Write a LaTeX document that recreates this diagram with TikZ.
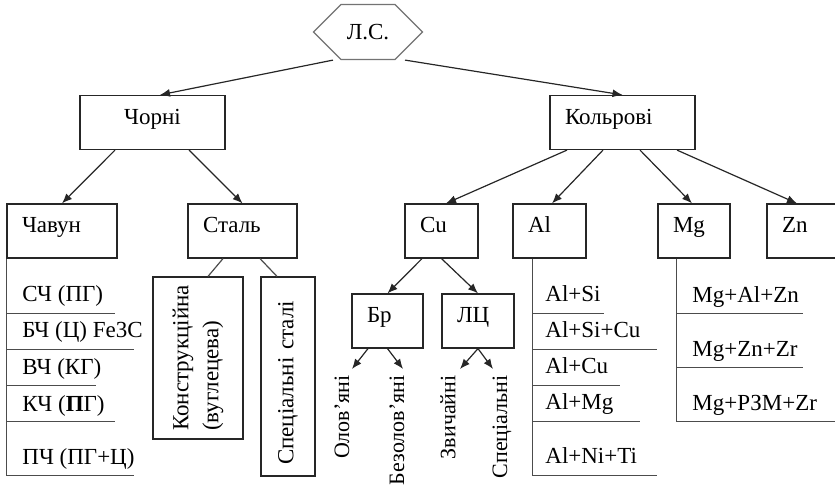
\documentclass[tikz,border=0pt]{standalone}
\usepackage{fontspec}
\setmainfont{Liberation Serif}
\usetikzlibrary{arrows.meta,shapes.symbols}
\begin{document}
\begin{tikzpicture}[
            x=0.5pt, y=-0.5pt,
            font=\fontsize{11.5}{13.5}\selectfont,
            hexa/.style={signal, signal to=west and east, draw=black!55, line width=0.6pt,
                    minimum width=54.5pt, minimum height=27.5pt, inner sep=0pt},
            box/.style={draw=black!85, line width=0.6pt, rectangle, minimum height=27pt,
                    text height=7pt, text depth=5pt, inner ysep=0pt},
            lbox/.style={box, inner xsep=7.5pt, text width=#1, align=left},
            vbox/.style={draw=black!85, line width=0.6pt, rectangle, rotate=90, align=left},
            arr/.style={draw=black!85, line width=0.6pt, -{Latex[length=5pt,width=4pt]}},
            tie/.style={draw=black!70, line width=0.6pt},
            item/.style={anchor=base west, inner sep=0pt},
            vtext/.style={rotate=90, anchor=east, inner sep=1pt, font=\fontsize{11}{13}\selectfont}
        ]
        \useasboundingbox (0,0) rectangle (835,485);
        \clip (0,0) rectangle (835,485);

        \node[hexa] (ls) at (368,32) {Л.С.};

        \node[box, minimum width=72.5pt] (chorni) at (152.5,122.5) {Чорні};
        \node[lbox=57.5pt] (kolrovi) at (622.5,122.5) {Кольрові};

        \node[lbox=40pt] (chavun) at (62,231) {Чавун};
        \node[lbox=39.5pt] (stal) at (242.5,231) {Сталь};
        \node[lbox=21.5pt] (cu) at (441.5,231) {Cu};
        \node[lbox=21.5pt] (al) at (549.5,231) {Al};
        \node[lbox=21pt] (mg) at (694,231) {Mg};
        \node[lbox=21pt] (zn) at (803,231) {Zn};

        \node[lbox=20.5pt] (br) at (387.5,321) {Бр};
        \node[lbox=21pt] (lc) at (478,321) {ЛЦ};

        \node[vbox, minimum width=81pt, minimum height=45pt,
            font=\fontsize{11.5}{15}\selectfont] (konstr) at (198,358)
            {Конструкційна\\(вуглецева)};
        \node[vbox, minimum width=99.5pt, minimum height=27pt, inner xsep=5.5pt,
            text width=88.5pt] (specstal) at (288,376.5) {Спеціальні сталі};

        \node[vtext] (olov) at (342,373) {Олов’яні};
        \node[vtext] (bezolov) at (397,373) {Безолов’яні};
        \node[vtext] (zvych) at (448,373) {Звичайні};
        \node[vtext] (specl) at (502,373) {Спеціальні};

        \draw[arr] ([xshift=-17.5pt]ls.south) -- ([xshift=3.75pt]chorni.north);
        \draw[arr] ([xshift=18.5pt]ls.south) -- (kolrovi.north);
        \draw[arr] ([xshift=-18.75pt]chorni.south) -- (chavun.north);
        \draw[arr] ([xshift=18.25pt]chorni.south) -- (stal.north);
        \draw[arr] ([xshift=-27.75pt]kolrovi.south) -- ([xshift=2.25pt]cu.north);
        \draw[arr] ([xshift=-9.75pt]kolrovi.south) -- ([xshift=1.25pt]al.north);
        \draw[arr] ([xshift=8.75pt]kolrovi.south) -- ([xshift=-1pt]mg.north);
        \draw[arr] ([xshift=27.25pt]kolrovi.south) -- ([xshift=-3pt]zn.north);
        \draw[arr] ([xshift=-9.75pt]cu.south) -- (br.north);
        \draw[arr] (cu.south) -- (lc.north);
        \draw[arr] ([xshift=-9.75pt]br.south) -- ([xshift=5pt,yshift=2pt]olov.east);
        \draw[arr] (br.south) -- ([xshift=3pt,yshift=2pt]bezolov.east);
        \draw[arr] (lc.south) -- ([xshift=6pt,yshift=2pt]zvych.east);
        \draw[arr] (lc.south) -- ([xshift=-4.5pt,yshift=2pt]specl.east);

        \draw[tie] ([xshift=-9.75pt]stal.south) -- ([xshift=5pt]konstr.east);
        \draw[tie] ([xshift=8.75pt]stal.south) -- ([xshift=-5.5pt]specstal.east);

        \draw[tie] (chavun.south west) -- ++(0,217);
        \draw[tie] (chavun.south west) ++(0,55) -- ++(109,0);
        \draw[tie] (chavun.south west) ++(0,91) -- ++(128,0);
        \draw[tie] (chavun.south west) ++(0,127) -- ++(90,0);
        \draw[tie] (chavun.south west) ++(0,163) -- ++(109,0);
        \draw[tie] (chavun.south west) ++(0,217) -- ++(128,0);
        \node[item] (sch) at (22,302) {СЧ (ПГ)};
        \node[item] (bch) at (22,338) {БЧ (Ц) Fe3C};
        \node[item] (vch) at (22,375) {ВЧ (КГ)};
        \node[item] (kch) at (22,412) {КЧ (\textbf{П}Г)};
        \node[item] (pch) at (22,465) {ПЧ (ПГ+Ц)};

        \draw[tie] ([xshift=10pt]al.south west) -- ++(0,217);
        \draw[tie] ([xshift=10pt]al.south west) ++(0,55) -- ++(72,0);
        \draw[tie] ([xshift=10pt]al.south west) ++(0,91) -- ++(125,0);
        \draw[tie] ([xshift=10pt]al.south west) ++(0,127) -- ++(88,0);
        \draw[tie] ([xshift=10pt]al.south west) ++(0,163) -- ++(108,0);
        \draw[tie] ([xshift=10pt]al.south west) ++(0,217) -- ++(125,0);
        \node[item] (alsi) at (545,302) {Al+Si};
        \node[item] (alsicu) at (545,338) {Al+Si+Cu};
        \node[item] (alcu) at (545,374) {Al+Cu};
        \node[item] (almg) at (545,410) {Al+Mg};
        \node[item] (alniti) at (545,464) {Al+Ni+Ti};

        \draw[tie] ([xshift=9.5pt]mg.south west) -- ++(0,163);
        \draw[tie] ([xshift=9.5pt]mg.south west) ++(0,55) -- ++(127,0);
        \draw[tie] ([xshift=9.5pt]mg.south west) ++(0,109) -- ++(127,0);
        \draw[tie] ([xshift=9.5pt]mg.south west) ++(0,163) -- ++(170,0);
        \node[item] (mgalzn) at (692,303) {Mg+Al+Zn};
        \node[item] (mgznzr) at (692,357) {Mg+Zn+Zr};
        \node[item] (mgrzm) at (692,411) {Mg+РЗМ+Zr};
    \end{tikzpicture}
\end{document}
